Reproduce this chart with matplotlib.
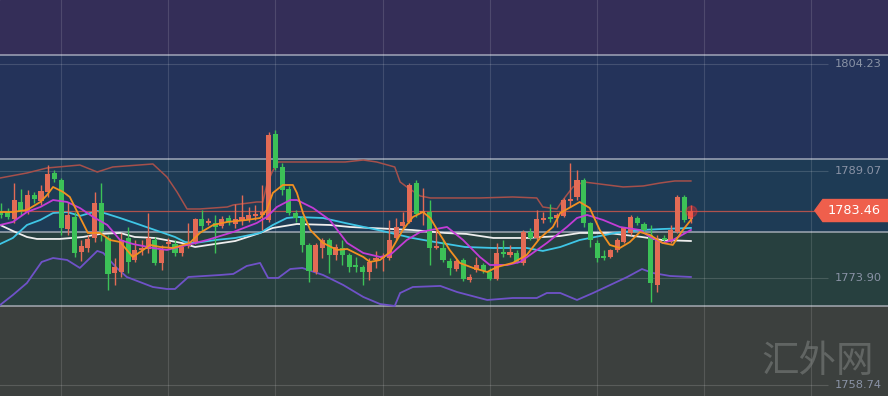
import matplotlib
matplotlib.use("Agg")
import matplotlib.pyplot as plt
from matplotlib.patches import Rectangle, Polygon
import numpy as np

plt.rcParams["font.family"] = ["DejaVu Sans", "Noto Sans CJK SC"]

# K 线数据 (开, 高, 低, 收)
opens = [1783.4, 1783.3, 1782.3, 1784.7, 1783.3, 1785.7, 1784.8, 1786.1, 1788.8, 1787.8,
         1780.8, 1782.5, 1777.6, 1778.2, 1779.6, 1784.5, 1779.6, 1774.6, 1774.8, 1779.6,
         1776.5, 1777.9, 1778.0, 1779.3, 1776.0, 1778.7, 1778.7, 1777.4, 1778.4, 1779.0,
         1782.3, 1781.7, 1781.7, 1781.3, 1782.4, 1781.6, 1782.1, 1782.3, 1782.7, 1782.8,
         1782.1, 1794.3, 1789.6, 1786.5, 1783.1, 1782.4, 1778.6, 1774.8, 1778.2, 1779.3,
         1777.2, 1778.2, 1777.2, 1775.7, 1775.5, 1774.8, 1776.5, 1776.7, 1776.7, 1779.6,
         1781.3, 1781.8, 1787.4, 1783.1, 1783.3, 1778.2, 1778.2, 1776.3, 1775.2, 1776.5,
         1773.6, 1775.0, 1775.7, 1774.8, 1773.8, 1777.6, 1777.2, 1777.4, 1776.0, 1780.4,
         1779.6, 1782.1, 1782.5, 1782.4, 1782.7, 1784.8, 1785.4, 1787.8, 1781.7, 1778.9,
         1777.0, 1776.9, 1777.9, 1779.0, 1780.3, 1782.4, 1781.6, 1780.0, 1772.9, 1779.6,
         1779.0, 1780.4, 1785.4, 1782.3]
highs = [1784.5, 1783.8, 1787.4, 1786.5, 1786.4, 1786.1, 1787.1, 1789.9, 1789.2, 1788.1,
         1784.7, 1783.3, 1779.3, 1780.0, 1786.1, 1787.4, 1780.0, 1776.7, 1780.3, 1781.1,
         1779.3, 1779.3, 1783.1, 1779.7, 1778.6, 1779.6, 1779.3, 1778.6, 1781.7, 1782.4,
         1783.5, 1782.4, 1782.8, 1782.7, 1782.8, 1784.4, 1785.7, 1784.0, 1784.3, 1787.1,
         1794.6, 1794.9, 1790.2, 1786.9, 1783.5, 1782.7, 1778.9, 1778.9, 1779.6, 1779.6,
         1778.7, 1779.3, 1777.4, 1776.9, 1775.7, 1776.7, 1777.7, 1777.4, 1782.1, 1782.4,
         1783.3, 1787.4, 1787.8, 1786.7, 1785.0, 1780.7, 1779.3, 1776.7, 1776.6, 1776.7,
         1774.5, 1776.9, 1776.0, 1775.3, 1778.9, 1779.3, 1778.6, 1777.9, 1780.7, 1781.0,
         1783.5, 1783.3, 1784.4, 1783.1, 1785.2, 1790.2, 1789.2, 1788.1, 1781.8, 1779.3,
         1777.9, 1778.0, 1779.6, 1781.1, 1782.8, 1782.7, 1781.8, 1781.4, 1780.0, 1780.0,
         1781.4, 1785.7, 1785.7, 1784.3]
lows = [1782.4, 1782.3, 1781.7, 1782.8, 1783.0, 1784.5, 1784.3, 1785.4, 1787.5, 1780.0,
        1780.0, 1776.9, 1776.3, 1777.6, 1779.0, 1779.1, 1772.2, 1772.9, 1774.0, 1774.6,
        1776.2, 1777.2, 1777.4, 1775.7, 1775.0, 1778.2, 1777.0, 1777.0, 1778.2, 1778.7,
        1780.4, 1781.4, 1777.4, 1781.0, 1781.4, 1781.0, 1781.4, 1781.8, 1782.1, 1780.7,
        1781.8, 1789.2, 1785.7, 1782.8, 1781.8, 1777.6, 1773.3, 1774.5, 1776.7, 1774.6,
        1776.5, 1775.7, 1774.8, 1774.8, 1772.9, 1773.6, 1775.3, 1774.9, 1776.5, 1779.3,
        1781.0, 1781.7, 1782.5, 1781.4, 1775.7, 1778.0, 1776.2, 1774.3, 1774.9, 1773.5,
        1773.3, 1774.8, 1774.6, 1773.6, 1773.6, 1776.9, 1776.9, 1776.0, 1775.7, 1779.3,
        1779.3, 1781.7, 1781.8, 1781.1, 1782.5, 1784.0, 1784.9, 1781.1, 1778.3, 1776.2,
        1776.5, 1776.7, 1777.6, 1778.9, 1780.0, 1781.4, 1780.4, 1770.5, 1771.9, 1778.9,
        1778.9, 1780.3, 1781.8, 1781.7]
closes = [1782.8, 1782.5, 1785.0, 1783.4, 1785.7, 1785.1, 1786.2, 1788.6, 1787.9, 1781.0,
          1782.8, 1777.4, 1778.4, 1779.4, 1784.5, 1780.6, 1774.5, 1775.5, 1779.3, 1776.2,
          1777.9, 1778.2, 1779.6, 1776.0, 1777.9, 1779.0, 1777.4, 1778.3, 1778.7, 1782.3,
          1781.3, 1782.0, 1781.1, 1782.3, 1781.8, 1782.3, 1782.5, 1782.8, 1783.0, 1783.3,
          1794.2, 1789.5, 1786.4, 1783.1, 1782.4, 1778.6, 1774.9, 1778.6, 1779.3, 1777.2,
          1778.3, 1777.2, 1775.5, 1775.5, 1774.8, 1776.2, 1776.7, 1777.0, 1779.3, 1781.1,
          1781.8, 1787.1, 1783.0, 1783.4, 1778.2, 1778.4, 1776.5, 1775.3, 1776.3, 1773.8,
          1774.0, 1775.7, 1774.9, 1773.8, 1777.4, 1777.3, 1777.6, 1776.0, 1780.4, 1779.6,
          1782.3, 1782.4, 1782.3, 1782.8, 1784.9, 1785.1, 1787.8, 1781.7, 1779.3, 1776.7,
          1776.7, 1777.9, 1779.3, 1781.0, 1782.5, 1781.7, 1780.7, 1773.2, 1779.3, 1779.3,
          1780.7, 1785.4, 1782.1, 1783.46]

# 指标线 (K线序号, 价格)
boll_up_x = [-0.1, 3.9, 6.9, 11.8, 14.4, 16.7, 22.7, 24.8, 26.3, 27.8, 29.7, 33.8, 34.7,
             38.2, 39.1, 39.7, 40.5, 41.4, 51.4, 54.1, 56.1, 58.8, 59.6, 60.6, 62.6, 64.1,
             71.5, 76.4, 80.0, 80.9, 83.0, 83.9, 85.4, 87.0, 92.9, 95.9, 98.4, 100.6, 103.0]
boll_up = [1788.07, 1788.78, 1789.49, 1789.91, 1788.92, 1789.63, 1790.06, 1788.21, 1786.09,
           1783.68, 1783.68, 1783.96, 1784.25, 1784.67, 1784.67, 1787.08, 1788.92, 1790.34,
           1790.34, 1790.62, 1790.34, 1789.63, 1787.51, 1786.80, 1785.52, 1785.24, 1785.24,
           1785.38, 1785.24, 1783.96, 1783.68, 1784.95, 1786.80, 1787.51, 1786.80, 1786.94,
           1787.36, 1787.65, 1787.65]
boll_dn_x = [-0.1, 1.8, 3.9, 6.1, 7.8, 9.9, 11.8, 14.4, 15.3, 17.3, 18.8, 22.7, 24.8, 26.0,
             28.0, 32.7, 34.7, 36.7, 38.7, 39.9, 41.4, 43.2, 45.0, 48.1, 51.1, 54.1, 56.6,
             58.8, 59.6, 61.5, 65.6, 68.1, 72.6, 76.4, 80.0, 81.5, 83.5, 86.0, 88.4, 93.5,
             95.7, 97.3, 99.9, 103.0]
boll_dn = [1770.07, 1771.49, 1773.19, 1776.17, 1776.73, 1776.45, 1775.32, 1777.73, 1777.44,
           1775.32, 1774.04, 1772.62, 1772.34, 1772.34, 1774.04, 1774.32, 1774.47, 1775.60,
           1776.03, 1773.90, 1773.90, 1775.17, 1775.32, 1774.32, 1772.91, 1771.21, 1770.21,
           1769.93, 1771.77, 1772.62, 1772.77, 1771.91, 1770.78, 1771.06, 1771.06, 1771.77,
           1771.77, 1770.78, 1771.77, 1774.04, 1775.17, 1774.61, 1774.18, 1774.04]
ma_white_x = [-0.1, 1.8, 3.9, 5.4, 8.8, 12.3, 14.8, 17.8, 20.0, 23.0, 27.0, 29.0, 32.0, 35.0,
              38.7, 40.6, 44.2, 49.1, 52.1, 61.4, 66.3, 69.5, 73.5, 78.5, 83.5, 86.4, 90.6,
              95.7, 98.7, 103.0]
ma_white = [1781.41, 1780.56, 1779.71, 1779.43, 1779.43, 1779.71, 1780.14, 1780.28, 1779.71,
            1779.57, 1778.86, 1778.29, 1778.72, 1779.14, 1780.28, 1780.99, 1781.55, 1781.41,
            1781.13, 1780.70, 1780.28, 1780.14, 1779.57, 1779.57, 1779.85, 1780.28, 1780.28,
            1779.71, 1779.28, 1779.14]
ma_cyan_x = [-0.1, 1.8, 3.9, 5.9, 7.8, 9.9, 11.8, 14.4, 15.9, 17.8, 20.0, 23.0, 26.0, 27.5,
             29.0, 32.0, 35.0, 38.7, 40.6, 42.7, 44.2, 48.1, 51.4, 56.3, 61.4, 64.8, 69.3,
             73.5, 78.5, 80.9, 83.5, 86.4, 88.7, 91.7, 95.7, 98.7, 103.0]
ma_cyan = [1778.72, 1779.57, 1781.41, 1782.12, 1783.11, 1783.25, 1782.69, 1783.40, 1782.97,
           1782.40, 1781.69, 1780.70, 1779.71, 1779.00, 1778.86, 1779.28, 1779.57, 1780.28,
           1781.41, 1782.40, 1782.54, 1782.40, 1781.69, 1780.70, 1779.57, 1779.00, 1778.29,
           1778.15, 1778.15, 1777.73, 1778.29, 1779.28, 1779.71, 1780.28, 1780.70, 1780.84,
           1780.99]
ma_pink_x = [-0.1, 1.8, 3.9, 5.9, 7.8, 9.9, 11.8, 13.8, 15.9, 17.8, 19.7, 22.7, 24.8, 27.8,
             30.8, 34.7, 38.2, 39.7, 41.2, 43.2, 44.2, 46.6, 49.1, 51.7, 54.1, 56.6, 58.1,
             60.6, 62.6, 66.6, 69.0, 71.5, 73.0, 75.6, 77.5, 79.4, 81.5, 84.5, 86.0, 87.5,
             89.9, 92.4, 95.4, 96.9, 98.8, 100.3, 103.0]
ma_pink = [1781.41, 1781.84, 1783.25, 1783.96, 1784.95, 1784.67, 1783.82, 1782.54, 1781.41,
           1779.28, 1778.72, 1778.15, 1777.87, 1778.58, 1779.28, 1780.42, 1781.69, 1782.54,
           1783.96, 1784.95, 1784.95, 1783.82, 1782.12, 1778.86, 1777.44, 1776.88, 1777.16,
           1779.28, 1780.42, 1781.13, 1779.28, 1776.88, 1775.74, 1775.74, 1776.17, 1777.44,
           1778.86, 1781.13, 1782.40, 1782.83, 1782.12, 1781.13, 1780.70, 1779.71, 1778.86,
           1779.28, 1780.70]
ma_orange_x = [-0.1, 1.8, 3.9, 5.9, 6.9, 7.8, 9.3, 10.3, 11.8, 13.0, 14.8, 16.3, 17.8, 19.7,
               20.8, 22.3, 23.8, 25.7, 28.2, 29.7, 31.7, 33.8, 36.7, 38.7, 39.7, 40.6, 42.1,
               43.6, 44.2, 45.1, 46.2, 48.1, 50.2, 51.7, 54.1, 55.1, 56.6, 58.1, 60.0, 61.5,
               63.0, 64.1, 65.6, 67.0, 68.5, 70.5, 72.6, 74.1, 76.4, 78.5, 80.5, 82.4, 83.5,
               86.4, 87.9, 89.4, 90.9, 92.4, 93.9, 95.4, 96.9, 98.8, 100.3, 101.8, 103.0]
ma_orange = [1783.25, 1783.25, 1783.54, 1784.67, 1785.66, 1786.80, 1786.09, 1785.38, 1782.54,
             1780.28, 1780.28, 1779.28, 1779.00, 1776.88, 1777.58, 1778.58, 1778.29, 1778.15,
             1778.86, 1780.28, 1781.41, 1781.84, 1782.12, 1782.40, 1783.54, 1785.95, 1787.08,
             1787.08, 1785.95, 1783.11, 1780.70, 1778.86, 1777.87, 1778.01, 1776.88, 1776.17,
             1776.45, 1777.58, 1780.70, 1782.54, 1783.25, 1782.40, 1779.99, 1777.87, 1776.03,
             1775.32, 1774.75, 1775.46, 1776.03, 1777.16, 1779.57, 1781.13, 1783.11, 1784.67,
             1783.82, 1780.70, 1778.58, 1778.15, 1779.00, 1780.42, 1779.99, 1778.86, 1778.58,
             1780.70, 1782.12]

y_ticks = [1804.23, 1789.07, 1773.90, 1758.74]
last_price = 1783.46


def main():
    fig = plt.figure(figsize=(8.88, 3.96), dpi=100)
    ax = fig.add_axes([0, 0, 1, 1])
    ax.set_xlim(-0.12, 132.42)
    ax.set_ylim(1757.17, 1813.30)
    ax.axis("off")

    # 背景色带
    bands = [(0.8611, 1.0, "#342e58"), (0.5985, 0.8611, "#24335a"),
             (0.4141, 0.5985, "#1e3b55"), (0.2273, 0.4141, "#27403f"),
             (0.0, 0.2273, "#3c403e")]
    for b0, b1, c in bands:
        ax.add_patch(Rectangle((0, b0), 1, b1 - b0, transform=ax.transAxes,
                               color=c, zorder=0))
    for b in [0.8611, 0.5985, 0.4141, 0.2273]:
        ax.axhline(ax.get_ylim()[0] + b * (ax.get_ylim()[1] - ax.get_ylim()[0]),
                   color="#c9ccd8", lw=1.1, alpha=0.75, zorder=1)

    # 网格
    for gx in range(9, 130, 16):
        ax.axvline(gx, color="white", lw=0.8, alpha=0.13, zorder=1)
    ax.hlines(y_ticks, -1, 123.5, color="white", lw=0.8, alpha=0.15, zorder=1)
    for t in y_ticks:
        ax.text(124.5, t, f"{t:.2f}", color="#8a93a6", fontsize=8.2,
                va="center", ha="left", zorder=5)

    # 指标线
    ax.plot(boll_up_x, boll_up, color="#a5504b", lw=1.1, zorder=2)
    ax.plot(boll_dn_x, boll_dn, color="#6f52c8", lw=1.3, zorder=2)
    ax.plot(ma_white_x, ma_white, color="#eeeeee", lw=1.3, zorder=2)
    ax.plot(ma_cyan_x, ma_cyan, color="#3fc6e6", lw=1.3, zorder=2)

    # K 线
    idx = np.arange(len(opens))
    o = np.array(opens)
    c = np.array(closes)
    up = c >= o
    colors = np.where(up, "#e36b55", "#3cc157")
    ax.vlines(idx, lows, highs, color=colors, lw=1.0, zorder=3)
    body = np.maximum(np.abs(c - o), 0.15)
    ax.bar(idx, body, bottom=np.minimum(o, c), width=0.75, color=colors, zorder=3)

    ax.plot(ma_pink_x, ma_pink, color="#c33cd6", lw=1.3, zorder=4)
    ax.plot(ma_orange_x, ma_orange, color="#f29021", lw=1.3, zorder=4)

    # 最新价
    ax.hlines(last_price, -1, 121.5, color="#d4584b", lw=0.9, alpha=0.8, zorder=2)
    ax.scatter([idx[-1]], [last_price], s=60, color="#ff3030", alpha=0.35, zorder=5)
    h = 1.56
    ax.add_patch(Polygon([(121.5, last_price), (122.7, last_price + h), (132.5, last_price + h),
                          (132.5, last_price - h), (122.7, last_price - h)],
                         closed=True, color="#ef5f4c", zorder=5))
    ax.text(127.4, last_price, f"{last_price:.2f}", color="white", fontsize=9.3,
            ha="center", va="center", zorder=6)

    # 水印
    ax.text(0.921, 0.086, "汇外网", transform=ax.transAxes, fontsize=27,
            family=["Noto Sans CJK SC"], fontweight="light", color="#7a7e7c",
            alpha=0.6, ha="center", va="center", zorder=1)

    fig.savefig("out.png", dpi=100)


if __name__ == '__main__':
    main()
